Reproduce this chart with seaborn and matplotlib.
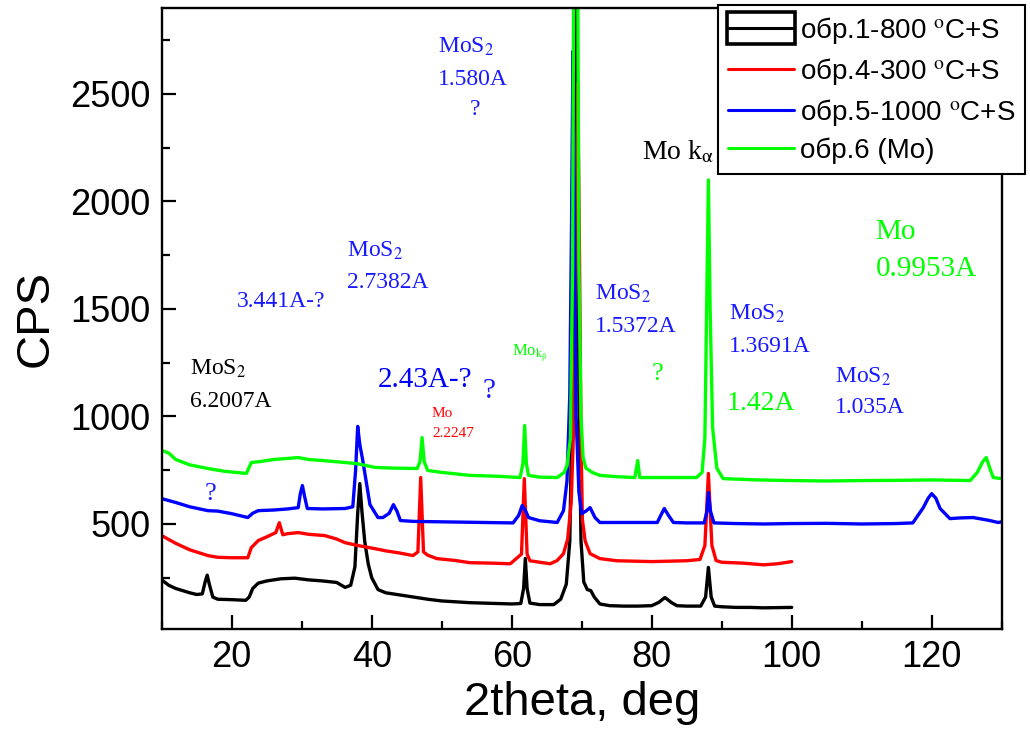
import numpy as np
import pandas as pd
import matplotlib
matplotlib.use("Agg")
import matplotlib.pyplot as plt
from matplotlib.patches import Rectangle
from matplotlib.ticker import MultipleLocator
import seaborn as sns

# --- XRD patterns: 2theta (deg) and intensity (CPS) ---
tt_s1 = [10, 11, 12, 13, 14, 15, 15.8, 16.2, 16.5, 16.8, 17.3, 18, 20, 22, 22.5, 23, 23.8, 25,
         27, 29, 31, 33, 35, 36.2, 37, 37.6, 38.0, 38.3, 38.6, 39.0, 39.5, 40.0, 40.9, 42, 44,
         46, 48, 50, 52, 54, 56, 58, 60, 61.3, 61.7, 61.95, 62.2, 62.6, 64, 66, 67, 67.8, 68.3,
         68.7, 68.95, 69.15, 69.35, 69.6, 69.9, 70.3, 70.8, 71.3, 71.8, 72.6, 74, 76, 78, 80,
         81, 81.9, 82.8, 83.6, 85, 87, 87.7, 88.1, 88.5, 89, 90, 92, 94, 96, 98, 100]
cps_s1 = [240, 215, 200, 190, 180, 172, 175, 230, 262, 220, 160, 150, 148, 145, 160, 200, 225, 235,
          245, 248, 240, 235, 228, 205, 215, 300, 550, 688, 560, 420, 315, 250, 195, 180, 170,
          160, 150, 142, 138, 134, 132, 130, 128, 130, 200, 340, 200, 132, 125, 125, 150, 220, 420,
          1200, 2600, 3300, 2600, 1100, 420, 230, 195, 190, 160, 128, 120, 118, 118, 120,
          135, 158, 135, 120, 118, 118, 160, 298, 160, 118, 115, 112, 112, 110, 111, 112]

tt_s4 = [10, 12, 14, 16.6, 18, 20, 22.3, 22.8, 23.8, 25, 26.3, 26.8, 27.3, 28, 29.5, 31, 33.3, 35,
         36.2, 38, 40.5, 42, 44, 45.9, 46.6, 47.0, 47.4, 48, 49.3, 52, 54, 57, 59.8, 61.4, 61.8,
         62.2, 62.6, 64, 65.5, 66.5, 67.4, 68.0, 68.5, 68.9, 69.2, 69.45, 69.7, 69.9, 70.1, 70.5,
         71.2, 72.6, 75, 80, 85, 86.9, 87.6, 88.1, 88.6, 89.2, 90, 93, 96, 98, 100]
cps_s4 = [446, 410, 380, 353, 345, 343, 343, 390, 423, 440, 460, 506, 450, 455, 460, 452, 446, 430,
          413, 400, 385, 375, 365, 353, 370, 716, 370, 355, 339, 330, 320, 318, 315, 360, 711,
          360, 329, 322, 315, 330, 362, 430, 600, 1000, 1700, 2550, 1700, 900, 520, 420,
          362, 339, 329, 325, 329, 335, 400, 735, 400, 330, 322, 318, 310, 315, 325]

tt_s5 = [10, 12, 14, 16.6, 18, 20, 22.3, 23.0, 23.8, 26, 28, 29.5, 29.8, 30.1, 30.4, 30.8, 33,
         36.2, 37.3, 37.7, 38.0, 38.3, 38.7, 39.0, 39.75, 40.9, 41.6, 42.5, 43.1, 43.6, 44.1, 46,
         50, 54, 58, 60.2, 61.0, 61.5, 62.0, 62.4, 64, 66.5, 67.4, 67.9, 68.3, 68.55, 68.75, 68.95,
         69.2, 69.6, 70.0, 70.6, 71.2, 71.9, 72.6, 75, 78, 80.8, 81.3, 81.8, 82.4, 83.1, 85, 87.5,
         87.9, 88.1, 88.4, 88.9, 92, 96, 100, 105, 110, 115, 117.3, 118.8, 119.5, 120.0, 120.6,
         121.2, 122.6, 124, 125.9, 128, 129.5, 130]
cps_s5 = [618, 600, 580, 562, 560, 548, 530, 550, 562, 565, 570, 576, 640, 679, 630, 572, 570,
          572, 580, 750, 954, 870, 800, 740, 590, 530, 530, 550, 590, 560, 516, 512,
          510, 508, 506, 505, 540, 586, 560, 530, 515, 507, 562, 700, 1100, 1900, 2700, 2000,
          1000, 650, 548, 560, 576, 530, 507, 507, 507, 507, 540, 572, 540, 507, 505, 505,
          560, 646, 560, 505, 502, 500, 502, 503, 500, 502, 505, 576, 620, 641, 620,
          572, 525, 528, 530, 518, 507, 510]

tt_s6 = [10, 11, 12, 14, 16.6, 19, 22.1, 22.8, 24, 26, 28, 29.5, 31, 33, 36.2, 38, 40.5, 43, 46.5,
         46.9, 47.2, 47.5, 48, 50, 54, 58, 61.2, 61.6, 61.85, 62.1, 62.4, 64, 66.5, 67.5, 67.9,
         68.4, 68.7, 68.85, 69.15, 69.45, 69.6, 69.9, 70.2, 70.6, 71.5, 72.6, 75, 77.6, 78.0, 78.3,
         80, 84, 86.4, 87.2, 87.6, 87.85, 88.1, 88.35, 88.7, 89.3, 90.2, 95, 100, 105, 110, 115,
         120, 125.5, 126.5, 127.3, 127.8, 128.3, 128.8, 130]
cps_s6 = [842, 830, 800, 775, 758, 745, 735, 786, 790, 800, 805, 809, 800, 795, 786, 780, 763, 760,
          758, 790, 902, 790, 749, 740, 726, 722, 716, 780, 958, 780, 726, 718, 716, 740, 772,
          900, 1700, 3000, 4000, 3000, 1700, 1000, 809, 760, 740, 726, 720, 716, 795, 716,
          716, 716, 716, 740, 900, 1500, 2100, 1500, 950, 760, 711, 705, 702, 700, 702, 703,
          705, 702, 739, 790, 809, 760, 716, 711]

samples = ["обр.1-800 $^{\\mathrm{o}}$C+S", "обр.4-300 $^{\\mathrm{o}}$C+S",
           "обр.5-1000 $^{\\mathrm{o}}$C+S", "обр.6 (Mo)"]
colors = ["#000000", "#ff0000", "#0000ff", "#00ff00"]

df = pd.concat([
    pd.DataFrame({"two_theta": tt, "cps": c, "sample": name})
    for tt, c, name in zip([tt_s1, tt_s4, tt_s5, tt_s6], [cps_s1, cps_s4, cps_s5, cps_s6], samples)
], ignore_index=True)

sns.set_style("white")
plt.rcParams["font.family"] = ["Liberation Sans", "DejaVu Sans"]
plt.rcParams["mathtext.fontset"] = "stix"
plt.rcParams["text.color"] = "black"
plt.rcParams["axes.labelcolor"] = "black"

fig = plt.figure(figsize=(10.30, 7.34), dpi=100)
ax = fig.add_axes([0.157, 0.1426, 0.8155, 0.8465])

sns.lineplot(data=df, x="two_theta", y="cps", hue="sample", hue_order=samples,
             palette=colors, estimator=None, sort=False, linewidth=2.4, ax=ax, legend=False)

ax.set_xlim(10, 130)
ax.set_ylim(10, 2900)
ax.xaxis.set_major_locator(MultipleLocator(20))
ax.xaxis.set_minor_locator(MultipleLocator(10))
ax.set_yticks([500, 1000, 1500, 2000, 2500])
ax.yaxis.set_minor_locator(MultipleLocator(250))
ax.tick_params(which="both", direction="in", width=1.6, bottom=True, left=True,
               top=False, right=False, color="black", labelcolor="black",
               labelsize=26, pad=8)
ax.tick_params(which="major", length=10)
ax.tick_params(which="minor", length=6)
for s in ax.spines.values():
    s.set_linewidth(1.7)
    s.set_color("black")
ax.set_xlabel("2theta, deg", fontsize=34, labelpad=4, color="black")
ax.set_ylabel("CPS", fontsize=34, labelpad=9, color="black")

# --- peak annotations ---
serif = ["Liberation Serif", "DejaVu Serif"]
blue_t = "#1a1aff"
notes = [
    (49.47, 2691, "MoS$_2$", blue_t, 17),
    (49.47, 2542, "1.580A", blue_t, 17),
    (54.04, 2402, "?", blue_t, 17),
    (78.6, 2198, "Mo k$_{\\mathrm{\\alpha}}$", "black", 20),
    (112.0, 1826, "Mo", "#00ff00", 21),
    (112.0, 1654, "0.9953A", "#00ff00", 21),
    (36.47, 1742, "MoS$_2$", blue_t, 17),
    (36.47, 1598, "2.7382A", blue_t, 17),
    (20.76, 1509, "3.441A-?", blue_t, 17),
    (71.9, 1542, "MoS$_2$", blue_t, 17),
    (71.9, 1393, "1.5372A", blue_t, 17),
    (91.0, 1449, "MoS$_2$", blue_t, 17),
    (91.0, 1300, "1.3691A", blue_t, 17),
    (80.04, 1170, "?", "#00ff00", 19),
    (90.76, 1030, "1.42A", "#00ff00", 20),
    (14.04, 1193, "MoS$_2$", "black", 17),
    (14.04, 1044, "6.2007A", "black", 17),
    (40.9, 1137, "2.43A-?", "#0000ff", 21),
    (55.76, 1086, "?", blue_t, 21),
    (60.04, 1281, "Mo$_{\\mathrm{k}_{\\mathrm{\\beta}}}$", "#00ff00", 12),
    (48.61, 998, "Mo", "#ff0000", 11),
    (48.61, 905, "2.2247", "#ff0000", 11),
    (106.2, 1156, "MoS$_2$", blue_t, 17),
    (106.2, 1016, "1.035A", blue_t, 17),
    (16.19, 612, "?", blue_t, 19),
]
for x, y, s, c, fs in notes:
    ax.text(x, y, s, color=c, fontsize=fs, family=serif, ha="left", va="baseline", zorder=6)

# --- legend ---
handles = [plt.Line2D([], [], color=c, lw=2.2) for c in colors]
leg = fig.legend(handles, samples, loc="upper right", bbox_to_anchor=(1025 / 1030, 1 - 5 / 734),
                 fontsize=20, frameon=True, fancybox=False, framealpha=1, edgecolor="black",
                 borderpad=0.35, labelspacing=0.36, handlelength=2.4, handletextpad=0.2,
                 borderaxespad=0)
leg.get_frame().set_linewidth(1.5)
leg.set_zorder(10)
for t in leg.get_texts():
    t.set_color("black")

fig.canvas.draw()
h0 = leg.legend_handles[0]
bb = h0.get_window_extent(fig.canvas.get_renderer())
W, H = fig.bbox.width, fig.bbox.height
box = Rectangle(((bb.x0 - 1) / W, (bb.y0 - 16) / H), (bb.width + 2) / W, 32 / H,
                transform=fig.transFigure, fill=False, edgecolor="black", linewidth=2.6,
                zorder=11)
fig.add_artist(box)

fig.savefig("out.png", dpi=100)
